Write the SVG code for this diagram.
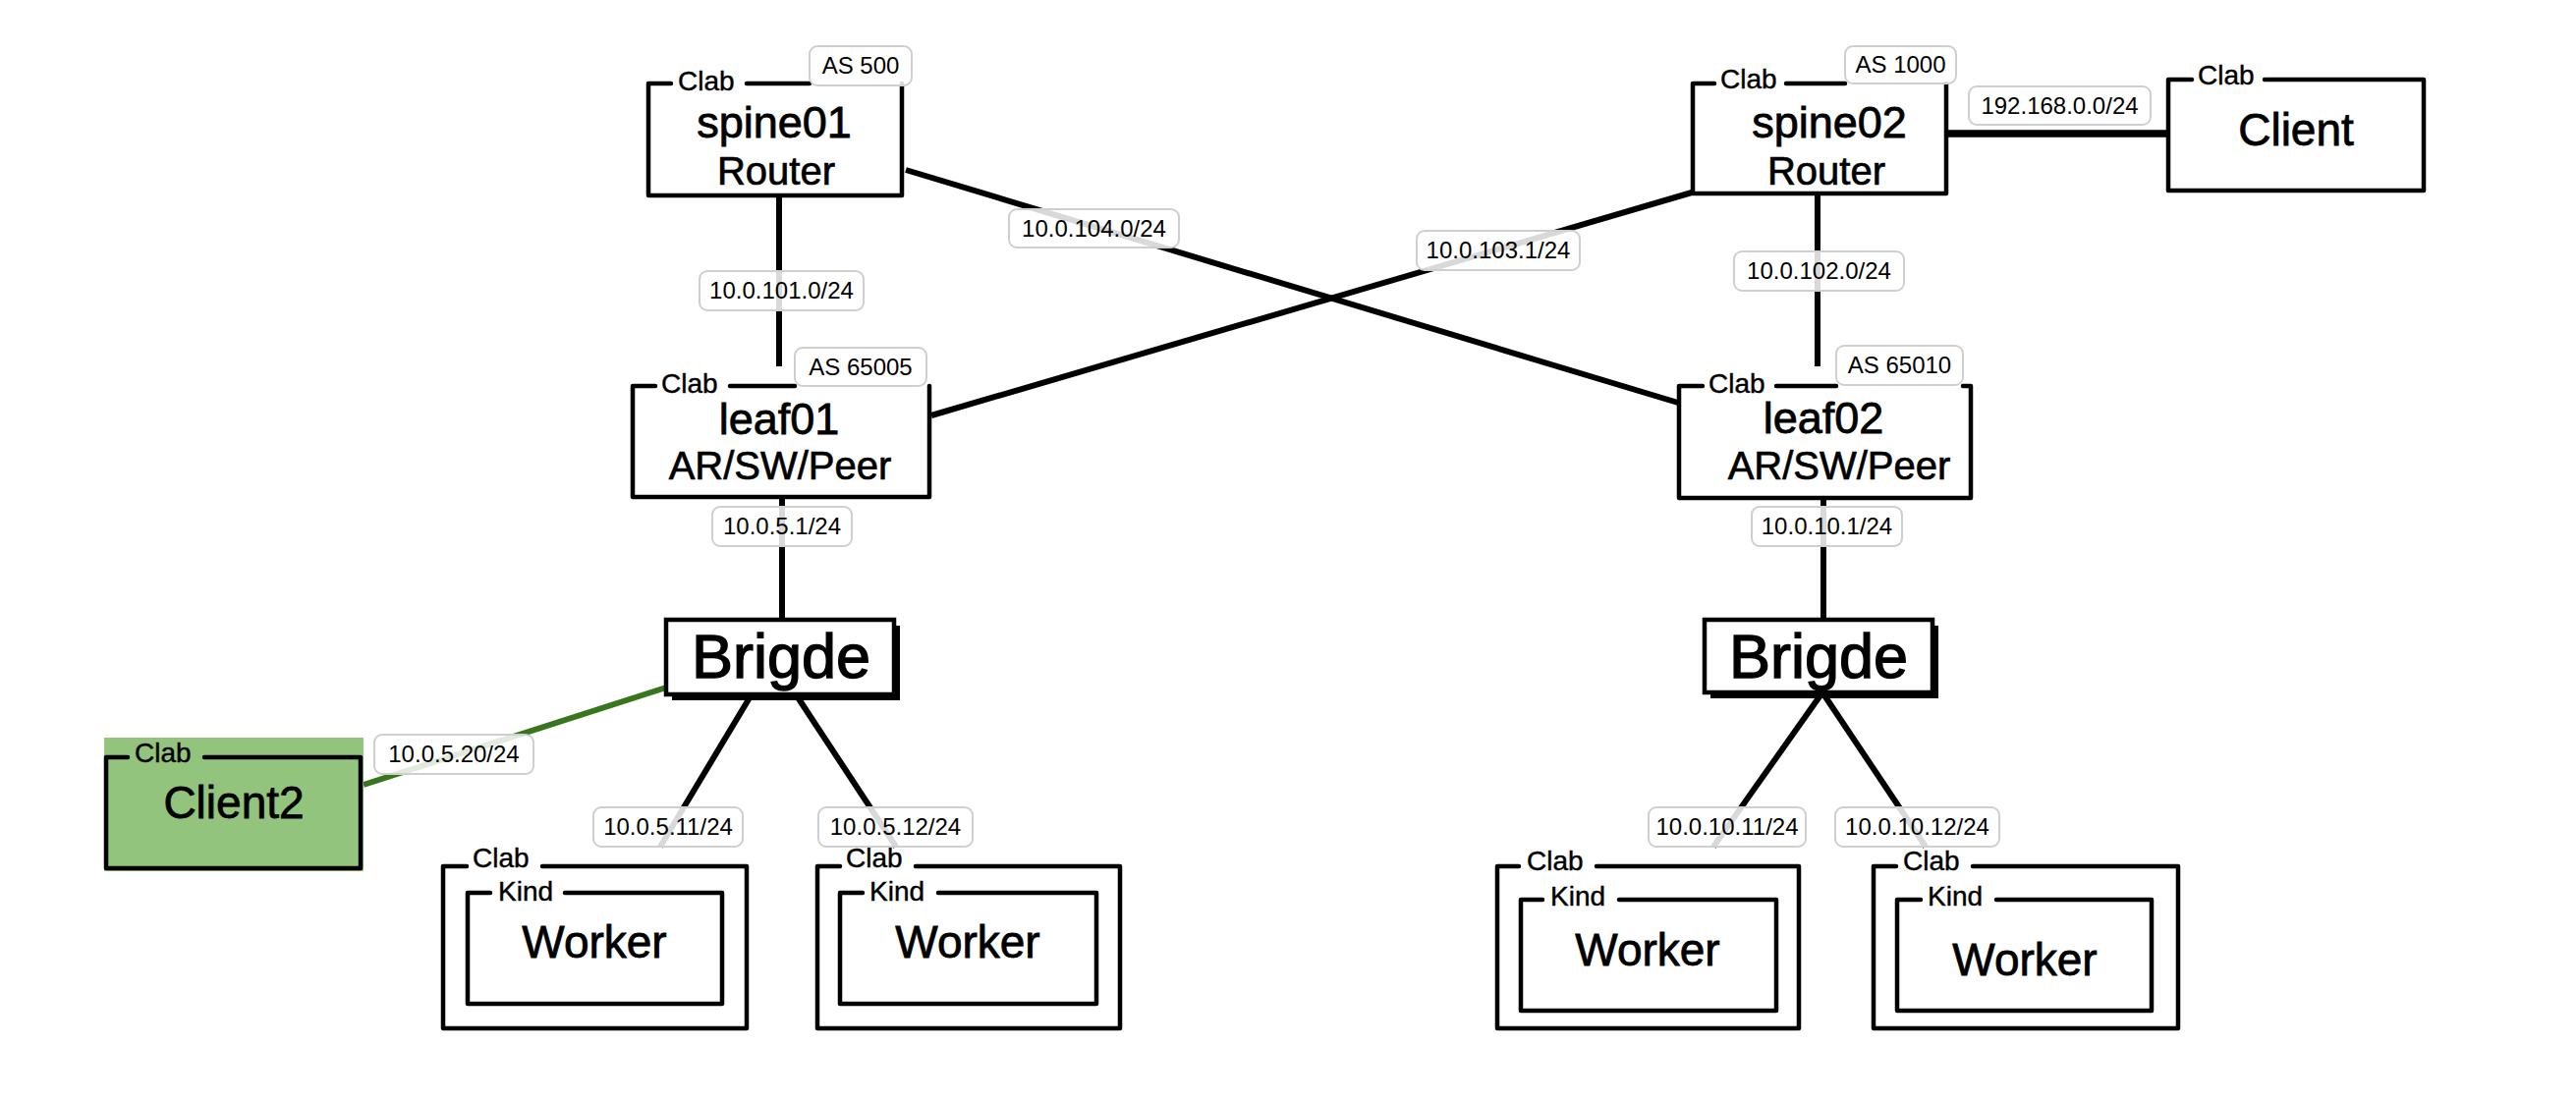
<svg xmlns="http://www.w3.org/2000/svg" width="2622" height="1122" viewBox="0 0 2622 1122">
<style>
text{font-family:"Liberation Sans",Arial,sans-serif;fill:#000}
.bg{fill:#fff}
.box{fill:none;stroke:#000;stroke-width:4.5;stroke-linecap:round;stroke-linejoin:round}
.link{stroke:#000;stroke-width:6;fill:none}
.green{stroke:#38761d;stroke-width:6;fill:none}
.lbl rect{fill:#fff;fill-opacity:0.85;stroke:#cfcfcf;stroke-width:2}
.lbl text{font-size:24px;text-anchor:middle}
.tag{font-size:28px;stroke:#000;stroke-width:0.4}
.title{font-size:45px;text-anchor:middle;stroke:#000;stroke-width:0.8}
.sub{font-size:40px;text-anchor:middle;stroke:#000;stroke-width:0.7}
.big{font-size:46px;text-anchor:middle;stroke:#000;stroke-width:0.8}
.br{font-size:63px;text-anchor:middle;stroke:#000;stroke-width:1.4}
</style>
<rect x="0" y="0" width="2622" height="1122" fill="#fff"/>
<g id="connectors">
<line class="link" x1="793" y1="199" x2="793" y2="373"/>
<line class="link" x1="1850" y1="197" x2="1850" y2="373"/>
<line class="link" x1="922" y1="173" x2="1708" y2="410"/>
<line class="link" x1="948" y1="423" x2="1722" y2="196"/>
<line class="link" x1="1981" y1="136" x2="2207" y2="136" style="stroke-width:7.5"/>
<line class="link" x1="796" y1="506" x2="796" y2="631"/>
<line class="link" x1="1856" y1="507" x2="1856" y2="631"/>
<line class="green" x1="678" y1="700" x2="370" y2="799"/>
<line class="link" x1="765" y1="707" x2="672" y2="862"/>
<line class="link" x1="810" y1="707" x2="912" y2="862"/>
<line class="link" x1="1855" y1="705" x2="1744" y2="862"/>
<line class="link" x1="1855" y1="705" x2="1960" y2="862"/>
</g>
<g id="spine01">
<rect class="bg" x="660" y="85" width="258" height="114"/>
<path class="box" d="M760,85 H824 M918,85 V199 H660 V85 H683"/>
<text class="tag" x="690" y="92">Clab</text>
<text class="title" x="788" y="140">spine01</text>
<text class="sub" x="790" y="188">Router</text>
<g class="lbl"><rect x="824" y="47" width="104" height="40" rx="8"/><text x="876" y="75">AS 500</text></g>
</g>
<g id="spine02">
<rect class="bg" x="1723" y="85" width="258" height="112"/>
<path class="box" d="M1818,85 H1878 M1981,85 V197 H1723 V85 H1745"/>
<text class="tag" x="1751" y="90">Clab</text>
<text class="title" x="1862" y="140">spine02</text>
<text class="sub" x="1859" y="188">Router</text>
<g class="lbl"><rect x="1878" y="47" width="113" height="38" rx="8"/><text x="1934.5" y="74">AS 1000</text></g>
</g>
<g id="client">
<rect class="bg" x="2207" y="81" width="260" height="113"/>
<path class="box" d="M2305,81 H2467 V194 H2207 V81 H2231"/>
<text class="tag" x="2237" y="86">Clab</text>
<text class="big" x="2337" y="148">Client</text>
</g>
<g id="leaf01">
<rect class="bg" x="644" y="393" width="302" height="113"/>
<path class="box" d="M743,393 H809 M946,393 V506 H644 V393 H667"/>
<text class="tag" x="673" y="400">Clab</text>
<text class="title" x="793" y="442">leaf01</text>
<text class="sub" x="794" y="488">AR/SW/Peer</text>
<g class="lbl"><rect x="809" y="354" width="134" height="39" rx="8"/><text x="876" y="382">AS 65005</text></g>
</g>
<g id="leaf02">
<rect class="bg" x="1709" y="393" width="297" height="114"/>
<path class="box" d="M1808,393 H1869 M1998,393 H2006 V507 H1709 V393 H1733"/>
<text class="tag" x="1739" y="400">Clab</text>
<text class="title" x="1856" y="441">leaf02</text>
<text class="sub" x="1872" y="488">AR/SW/Peer</text>
<g class="lbl"><rect x="1869" y="352" width="129" height="40" rx="8"/><text x="1933.5" y="380">AS 65010</text></g>
</g>
<g id="bridge1">
<rect x="684" y="637" width="232" height="76" fill="#000"/>
<rect x="678" y="631" width="232" height="76" fill="#fff" stroke="#000" stroke-width="4.5"/>
<text class="br" x="795" y="690">Brigde</text>
</g>
<g id="bridge2">
<rect x="1741" y="637" width="232" height="74" fill="#000"/>
<rect x="1735" y="631" width="232" height="74" fill="#fff" stroke="#000" stroke-width="4.5"/>
<text class="br" x="1851" y="690">Brigde</text>
</g>
<g id="client2">
<rect x="106" y="751" width="264" height="136" fill="#93c47d"/>
<path class="box" d="M208,771 H367 V884 H108 V771 H130"/>
<text class="tag" x="137" y="776">Clab</text>
<text class="big" x="238" y="833">Client2</text>
</g>
<g id="worker1">
<rect class="bg" x="451" y="882" width="309" height="165"/>
<path class="box" d="M552,882 H760 V1047 H451 V882 H475"/>
<path class="box" d="M575,909 H735 V1022 H476 V909 H499"/>
<text class="tag" x="481" y="883">Clab</text>
<text class="tag" x="507" y="917">Kind</text>
<text class="big" x="605" y="975">Worker</text>
</g>
<g id="worker2">
<rect class="bg" x="832" y="882" width="308" height="165"/>
<path class="box" d="M932,882 H1140 V1047 H832 V882 H855"/>
<path class="box" d="M955,909 H1116 V1022 H855 V909 H878"/>
<text class="tag" x="861" y="883">Clab</text>
<text class="tag" x="885" y="917">Kind</text>
<text class="big" x="985" y="975">Worker</text>
</g>
<g id="worker3">
<rect class="bg" x="1524" y="882" width="307" height="165"/>
<path class="box" d="M1625,882 H1831 V1047 H1524 V882 H1546"/>
<path class="box" d="M1648,916 H1808 V1029 H1548 V916 H1570"/>
<text class="tag" x="1554" y="886">Clab</text>
<text class="tag" x="1578" y="922">Kind</text>
<text class="big" x="1677" y="983">Worker</text>
</g>
<g id="worker4">
<rect class="bg" x="1907" y="882" width="310" height="165"/>
<path class="box" d="M2008,882 H2217 V1047 H1907 V882 H1930"/>
<path class="box" d="M2032,916 H2190 V1029 H1931 V916 H1955"/>
<text class="tag" x="1937" y="886">Clab</text>
<text class="tag" x="1962" y="922">Kind</text>
<text class="big" x="2061" y="993">Worker</text>
</g>
<g id="edge-labels">
<g class="lbl"><rect x="2004" y="88" width="185" height="39" rx="8"/><text x="2096.5" y="116">192.168.0.0/24</text></g>
<g class="lbl"><rect x="712" y="276" width="167" height="40" rx="8"/><text x="795.5" y="304">10.0.101.0/24</text></g>
<g class="lbl"><rect x="1765" y="256" width="173" height="40" rx="8"/><text x="1851.5" y="284">10.0.102.0/24</text></g>
<g class="lbl"><rect x="1027" y="213" width="173" height="39" rx="8"/><text x="1113.5" y="241">10.0.104.0/24</text></g>
<g class="lbl"><rect x="1442" y="235" width="166" height="40" rx="8"/><text x="1525" y="263">10.0.103.1/24</text></g>
<g class="lbl"><rect x="725" y="516" width="142" height="40" rx="8"/><text x="796" y="544">10.0.5.1/24</text></g>
<g class="lbl"><rect x="1783" y="516" width="153" height="40" rx="8"/><text x="1859.5" y="544">10.0.10.1/24</text></g>
<g class="lbl"><rect x="381" y="748" width="162" height="40" rx="8"/><text x="462" y="776">10.0.5.20/24</text></g>
<g class="lbl"><rect x="604" y="822" width="152" height="40" rx="8"/><text x="680" y="850">10.0.5.11/24</text></g>
<g class="lbl"><rect x="833" y="822" width="157" height="40" rx="8"/><text x="911.5" y="850">10.0.5.12/24</text></g>
<g class="lbl"><rect x="1678" y="822" width="160" height="40" rx="8"/><text x="1758" y="850">10.0.10.11/24</text></g>
<g class="lbl"><rect x="1868" y="822" width="167" height="40" rx="8"/><text x="1951.5" y="850">10.0.10.12/24</text></g>
</g>
</svg>
